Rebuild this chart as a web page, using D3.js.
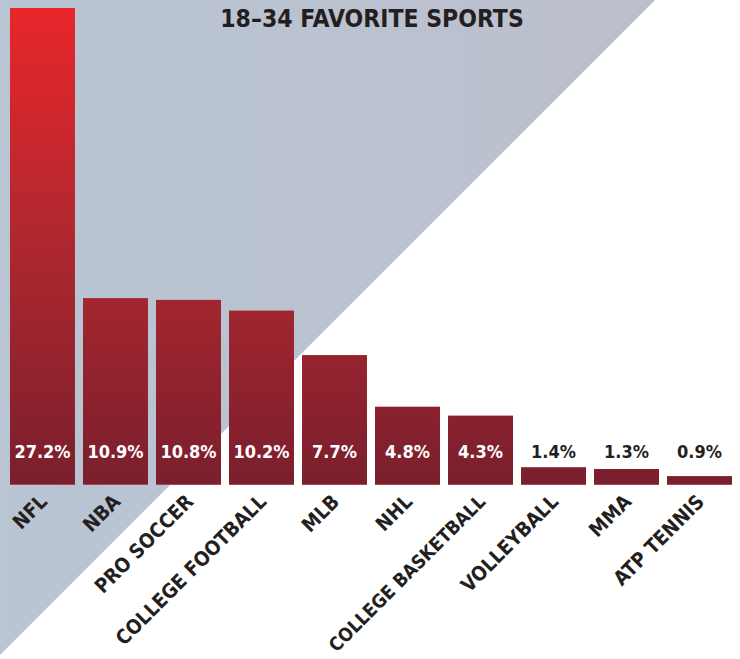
<!DOCTYPE html>
<html>
<head>
<meta charset="utf-8">
<script src="https://cdn.jsdelivr.net/npm/d3@7"></script>
<style>
  body { margin: 0; background: #fff; }
  svg { display: block; }
  text { font-family: "DejaVu Sans Condensed", "DejaVu Sans", sans-serif; font-weight: bold; }
</style>
</head>
<body>
<svg id="chart"></svg>
<script>
const categories = ["NFL", "NBA", "PRO SOCCER", "COLLEGE FOOTBALL", "MLB", "NHL",
  "COLLEGE BASKETBALL", "VOLLEYBALL", "MMA", "ATP TENNIS"];
const shares = [27.2, 10.9, 10.8, 10.2, 7.7, 4.8, 4.3, 1.4, 1.3, 0.9];
const valueLabels = ["27.2%", "10.9%", "10.8%", "10.2%", "7.7%", "4.8%", "4.3%", "1.4%", "1.3%", "0.9%"];
const title = "18–34 FAVORITE SPORTS";

const width = 740, height = 659;
const svg = d3.select("#chart").attr("width", width).attr("height", height);

const defs = svg.append("defs");

// background triangle gradient
const bg = defs.append("linearGradient").attr("id", "bgGrad")
  .attr("x1", "0%").attr("x2", "100%").attr("y1", "0%").attr("y2", "0%");
bg.append("stop").attr("offset", "0%").attr("stop-color", "#b9c5d3");
bg.append("stop").attr("offset", "100%").attr("stop-color", "#bcbfcc");

// bar gradient, shared over the whole plot height
const baseline = 485, plotTop = 8;
const barGrad = defs.append("linearGradient").attr("id", "barGrad")
  .attr("gradientUnits", "userSpaceOnUse")
  .attr("x1", 0).attr("x2", 0).attr("y1", plotTop).attr("y2", baseline);
barGrad.append("stop").attr("offset", "0%").attr("stop-color", "#e8262a");
barGrad.append("stop").attr("offset", "45%").attr("stop-color", "#b3282f");
barGrad.append("stop").attr("offset", "100%").attr("stop-color", "#7a1f2d");

svg.append("path")
  .attr("d", "M0,0 L655,0 L0,655 Z")
  .attr("fill", "url(#bgGrad)");

const x = d3.scaleBand()
  .domain(categories)
  .range([10, 732])
  .paddingInner(0.11)
  .paddingOuter(0);

const y = d3.scaleLinear()
  .domain([0.4, 27.2])
  .range([baseline, plotTop]);

svg.append("text")
  .attr("x", 372)
  .attr("y", 27)
  .attr("text-anchor", "middle")
  .attr("font-size", 24.5)
  .attr("fill", "#231f20")
  .text(title);

const bars = svg.append("g").selectAll("g")
  .data(categories)
  .enter()
  .append("g");

bars.append("rect")
  .attr("x", d => x(d))
  .attr("y", (d, i) => y(shares[i]))
  .attr("width", x.bandwidth())
  .attr("height", (d, i) => baseline - y(shares[i]))
  .attr("fill", "url(#barGrad)");

bars.append("rect")
  .attr("x", d => x(d))
  .attr("y", baseline - 1)
  .attr("width", x.bandwidth())
  .attr("height", 1)
  .attr("fill", "#a64a58");

bars.append("text")
  .attr("x", d => x(d) + x.bandwidth() / 2)
  .attr("y", 458)
  .attr("text-anchor", "middle")
  .attr("font-size", 18)
  .attr("fill", (d, i) => shares[i] > 3 ? "#ffffff" : "#231f20")
  .text((d, i) => valueLabels[i]);

const labelY = baseline + 18;
bars.append("text")
  .attr("transform", d => `translate(${x(d) + x.bandwidth() / 2 + 6},${labelY}) rotate(-45)`)
  .attr("text-anchor", "end")
  .attr("font-size", 20)
  .attr("fill", "#231f20")
  .text(d => d)
  .each(function () {
    // shrink a label a little if its start would run off the bottom edge
    const len = this.getComputedTextLength();
    const bottom = labelY + len * Math.SQRT1_2 + 4;
    if (bottom > height - 2) {
      const k = (height - 2 - labelY - 4) / (len * Math.SQRT1_2);
      d3.select(this).attr("font-size", 20 * k);
    }
  });
</script>
</body>
</html>
